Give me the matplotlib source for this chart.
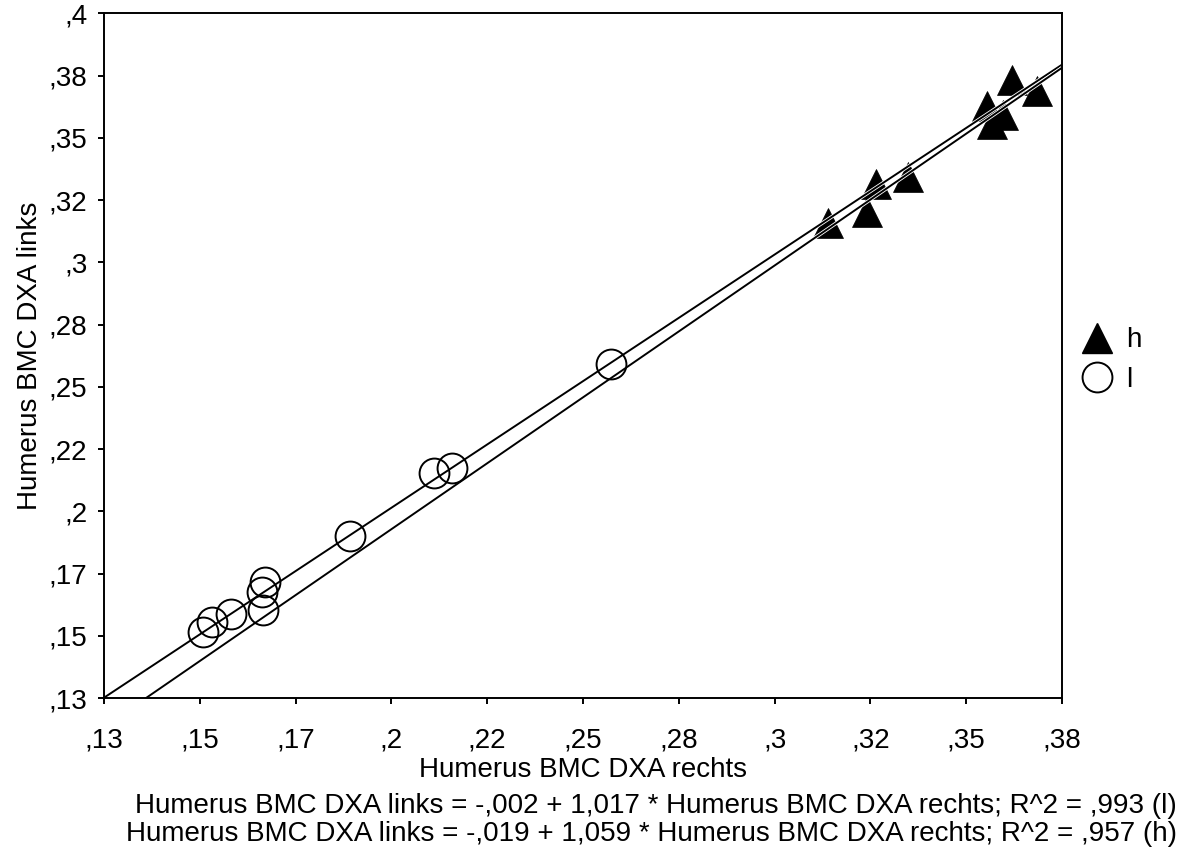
import matplotlib
matplotlib.use("Agg")
import matplotlib.pyplot as plt
import matplotlib.patheffects as pe
from matplotlib.lines import Line2D
from matplotlib.ticker import FixedLocator, FixedFormatter
import numpy as np

plt.rcParams['font.family'] = ['Liberation Sans', 'DejaVu Sans']

# Group "l" (open circles): right vs. left humerus BMC
l_rechts = [0.1509, 0.1531, 0.1581, 0.1670, 0.1662, 0.1666, 0.1892, 0.2111, 0.2158, 0.2573]
l_links = [0.1516, 0.1556, 0.1586, 0.1717, 0.1677, 0.1603, 0.1900, 0.2153, 0.2173, 0.2591]

# Group "h" (filled triangles)
h_rechts = [0.3139, 0.3264, 0.3240, 0.3349, 0.3555, 0.3595, 0.3567, 0.3619, 0.3684]
h_links = [0.3157, 0.3315, 0.3201, 0.3344, 0.3627, 0.3592, 0.3554, 0.3731, 0.3688]

# Linear fits: (intercept, slope, R^2)
fit_l = (-0.002, 1.017, 0.993)
fit_h = (-0.019, 1.059, 0.957)

x_ticks = [0.125, 0.150, 0.175, 0.200, 0.225, 0.250, 0.275, 0.300, 0.325, 0.350, 0.375]
x_tick_labels = [",13", ",15", ",17", ",2", ",22", ",25", ",28", ",3", ",32", ",35", ",38"]
y_ticks = [0.125, 0.150, 0.175, 0.200, 0.225, 0.250, 0.275, 0.300, 0.325, 0.350, 0.375, 0.400]
y_tick_labels = [",13", ",15", ",17", ",2", ",22", ",25", ",28", ",3", ",32", ",35", ",38", ",4"]

x_label = "Humerus BMC DXA rechts"
y_label = "Humerus BMC DXA links"

FS = 20
MS = 21.5


def spss_num(v):
    s = f"{v:.3f}"
    if s.startswith("0."):
        s = s[1:]
    elif s.startswith("-0."):
        s = "-" + s[2:]
    return s.replace(".", ",")


W, H = 1183, 856
fig = plt.figure(figsize=(W / 100, H / 100), dpi=100)
ax = fig.add_axes([104 / W, 1 - 698 / H, (1062 - 104) / W, (698 - 13.3) / H])

ax.set_xlim(x_ticks[0], x_ticks[-1])
ax.set_ylim(y_ticks[0], y_ticks[-1])

ax.plot(h_rechts, h_links, ls='none', marker='^', ms=MS, mfc='black', mec='black',
        mew=0.5, zorder=2)

# fit lines across the full x range, with a thin white casing
xs = np.array([x_ticks[0], x_ticks[-1]])
for a, b, _ in (fit_l, fit_h):
    ax.plot(xs, a + b * xs, color='black', lw=1.4, zorder=3,
            path_effects=[pe.Stroke(linewidth=2.6, foreground='white'), pe.Normal()])

ax.plot(l_rechts, l_links, ls='none', marker='o', ms=MS, mfc='none', mec='black',
        mew=1.4, zorder=4)

ax.xaxis.set_major_locator(FixedLocator(x_ticks))
ax.xaxis.set_major_formatter(FixedFormatter(x_tick_labels))
ax.yaxis.set_major_locator(FixedLocator(y_ticks))
ax.yaxis.set_major_formatter(FixedFormatter(y_tick_labels))
ax.tick_params(axis='both', direction='out', length=4, width=1.4, labelsize=FS,
               color='black', labelcolor='black')
ax.tick_params(axis='x', pad=17.5)
ax.tick_params(axis='y', pad=8)
for sp in ax.spines.values():
    sp.set_linewidth(1.4)
    sp.set_color('black')
    sp.set_zorder(5)

ax.set_xlabel(x_label, fontsize=FS, labelpad=2)
ax.set_ylabel(y_label, fontsize=FS, labelpad=4)

handles = [
    Line2D([], [], ls='none', marker='^', ms=MS, mfc='black', mec='black'),
    Line2D([], [], ls='none', marker='o', ms=MS, mfc='none', mec='black', mew=1.4),
]
ax.legend(handles, ['h', 'l'], loc='center left', bbox_to_anchor=(1083 / W, 1 - 360 / H),
          bbox_transform=fig.transFigure, frameon=False, fontsize=FS,
          handlelength=1.0, handletextpad=0.55, labelspacing=0.48, borderpad=0,
          borderaxespad=0)

eq_lines = []
for (a, b, r2), tag in ((fit_l, 'l'), (fit_h, 'h')):
    eq_lines.append(f"{y_label} = {spss_num(a)} + {spss_num(b)} * {x_label}; "
                    f"R^2 = {spss_num(r2)} ({tag})")
fig.text(1177 / W, 1 - 806 / H, eq_lines[0], ha='right', va='center', fontsize=FS)
fig.text(1177 / W, 1 - 834 / H, eq_lines[1], ha='right', va='center', fontsize=FS)

fig.savefig("out.png", dpi=100, facecolor='white')
